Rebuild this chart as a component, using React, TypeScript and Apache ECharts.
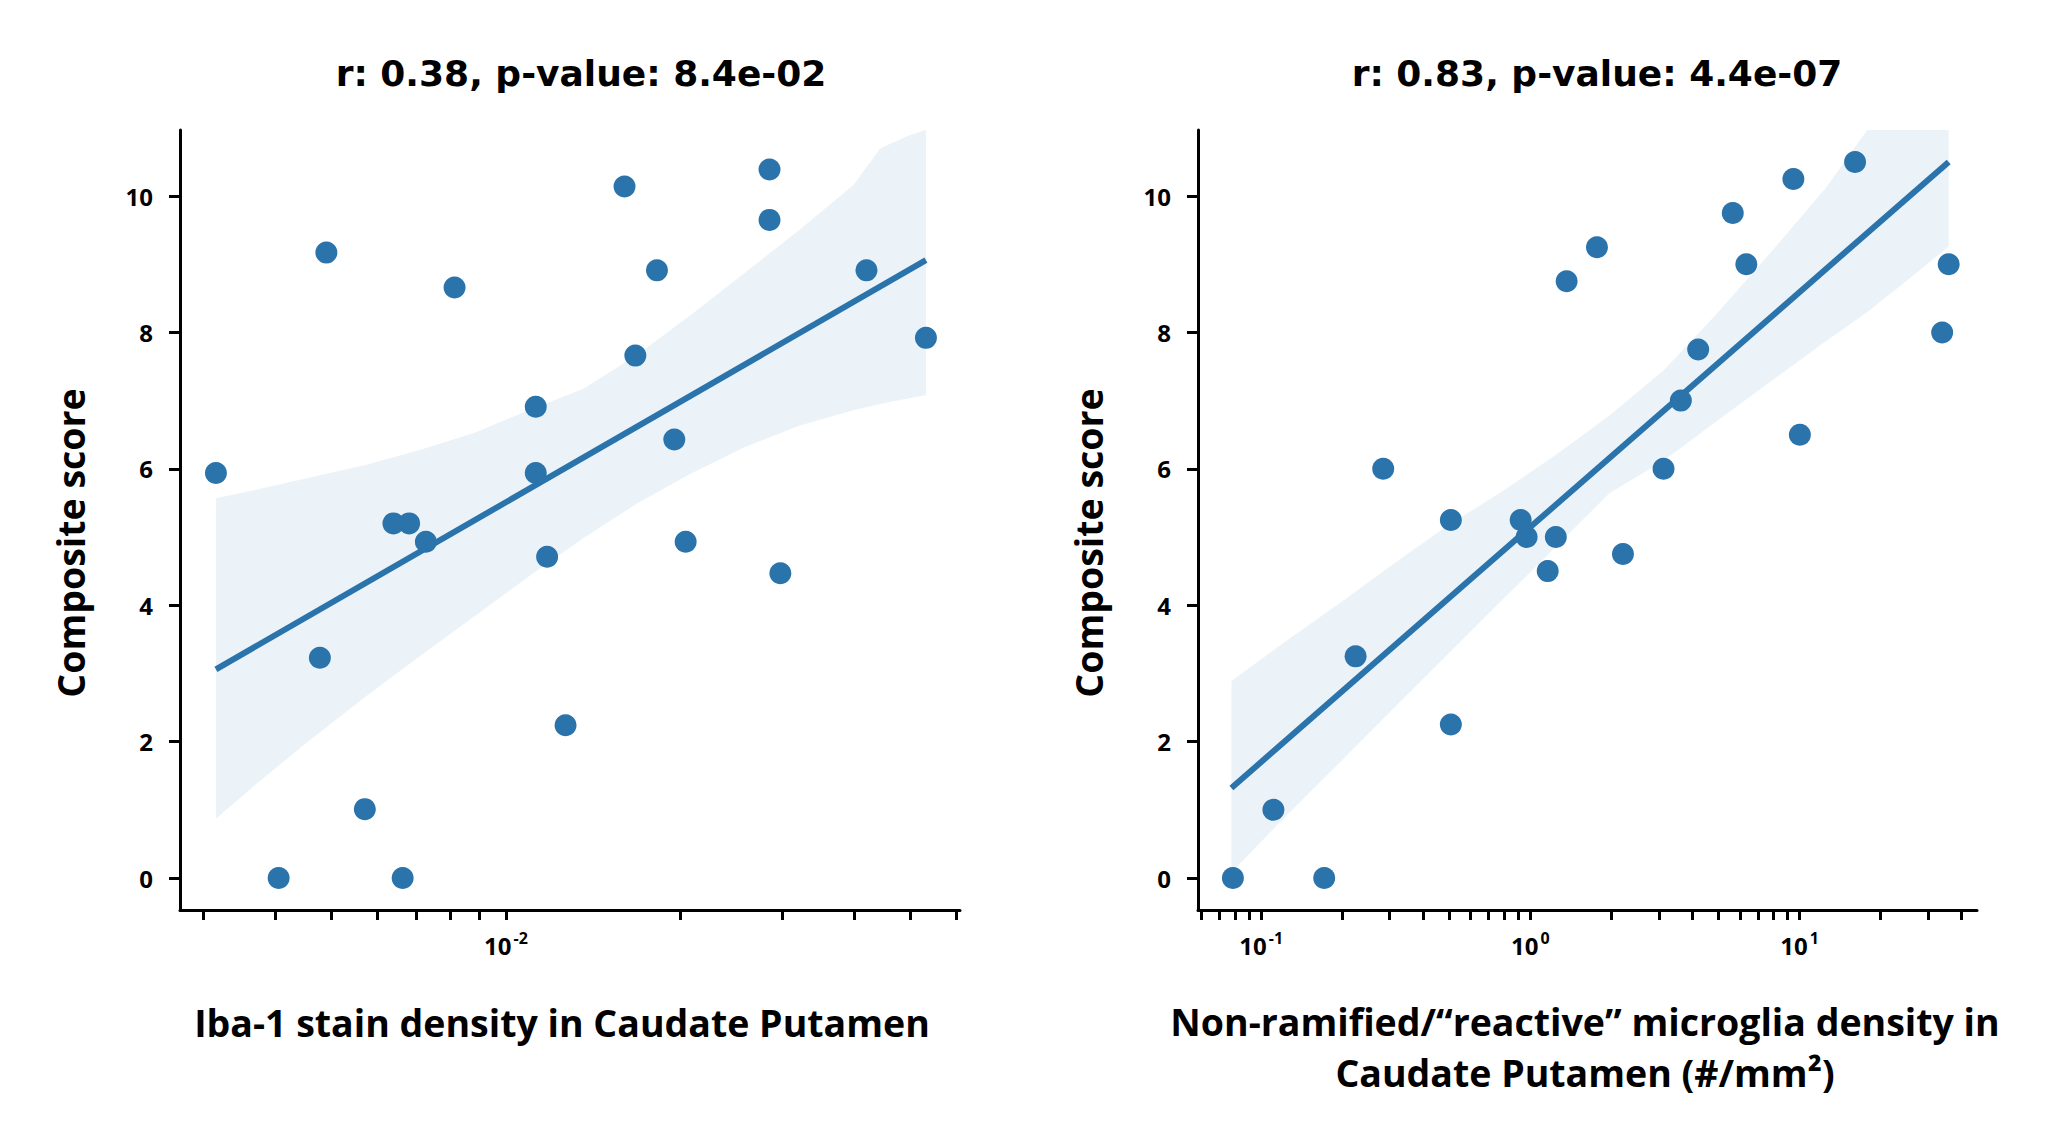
import React, { useEffect, useRef } from "react";
import * as echarts from "echarts";

// ---------- data ----------
const yValuesLeft = [5.94, 0, 9.17, 3.23, 1.01, 5.2, 5.2, 0, 4.93, 8.66, 6.91, 5.94, 4.71, 2.24, 10.14, 7.66, 8.91, 6.43, 4.93, 10.39, 9.65, 4.47, 8.91, 7.92];
const iba1Density = [
  0.003155, 0.004049, 0.004895, 0.00477, 0.005704, 0.006391, 0.006803, 0.00663, 0.007271, 0.00815,
  0.011256, 0.011256, 0.011776, 0.012672, 0.016022, 0.016726, 0.018228, 0.019528, 0.020431, 0.028519,
  0.028519, 0.029774, 0.041937, 0.053123,
];
const reactiveDensity = [
  0.0785, 0.111, 0.1714, 0.2242, 0.2839, 0.5064, 0.5064, 0.92, 0.9681, 1.1595,
  1.2429, 1.3633, 1.767, 2.2068, 3.1225, 3.6215, 4.2003, 5.6458, 6.3394, 9.4818,
  10.023, 16.07, 33.85, 35.79,
];
const yValuesRight = [0, 1, 0, 3.25, 6, 5.25, 2.25, 5.25, 5, 4.5, 5, 8.75, 9.25, 4.75, 6, 7, 7.75, 9.75, 9, 10.25, 6.5, 10.5, 8, 9];

// regression lines (end points)
const leftFitX = [0.003155, 0.053123];
const leftFitY = [3.06, 9.06];
const rightFitX = [0.0775, 35.79];
const rightFitY = [1.32, 10.5];

// confidence bands
const leftBandX = [0.003155, 0.003731, 0.004628, 0.005741, 0.007117, 0.008826, 0.010946, 0.013576, 0.016834, 0.020873, 0.025883, 0.0321, 0.03981, 0.044337, 0.049375, 0.053123];
const leftBandLow = [0.87, 1.4, 2.05, 2.67, 3.26, 3.84, 4.42, 4.98, 5.49, 5.93, 6.32, 6.63, 6.86, 6.95, 7.03, 7.08];
const leftBandHigh = [5.57, 5.7, 5.88, 6.06, 6.28, 6.53, 6.86, 7.17, 7.67, 8.26, 8.88, 9.5, 10.16, 10.7, 10.88, 10.97];

const rightBandX = [0.0775, 0.1223, 0.1943, 0.3087, 0.4902, 0.779, 1.2374, 1.9656, 3.1225, 4.9608, 7.88, 12.517, 17.71, 25.06, 35.79];
const rightBandLow = [0.08, 0.89, 1.68, 2.48, 3.27, 4.06, 4.85, 5.64, 6.12, 6.71, 7.29, 7.87, 8.29, 8.76, 9.26];
const rightBandHigh = [2.89, 3.46, 4.02, 4.6, 5.16, 5.66, 6.2, 6.78, 7.44, 8.29, 9.19, 10.12, 10.95, 11.6, 12.4];

// axes
const yTicks = [0, 2, 4, 6, 8, 10];
const leftXTicks = [0.003, 0.004, 0.005, 0.006, 0.007, 0.008, 0.009, 0.01, 0.02, 0.03, 0.04, 0.05, 0.06];
const leftXLabels = [0.01];
const rightXTicks = [0.06, 0.07, 0.08, 0.09, 0.1, 0.2, 0.3, 0.4, 0.5, 0.6, 0.7, 0.8, 0.9, 1, 2, 3, 4, 5, 6, 7, 8, 9, 10, 20, 30, 40];
const rightXLabels = [0.1, 1, 10];

const titles = ["r: 0.38, p-value: 8.4e-02", "r: 0.83, p-value: 4.4e-07"];
const xNames = [
  "Iba-1 stain density in Caudate Putamen",
  "Non-ramified/\u201creactive\u201d microglia density in\nCaudate Putamen (#/mm\u00b2)",
];
const yName = "Composite score";

// ---------- styles ----------
const BLUE = "#2a73ab";
const BAND = "rgba(31,119,180,0.09)";
const LABEL_FONT = "'Open Sans', 'Noto Sans', sans-serif";
const TITLE_FONT = "'DejaVu Sans', sans-serif";

const pairs = (xs: number[], ys: number[]) => xs.map((x, i) => [x, ys[i]]);

function logLabel(v: number) {
  const e = Math.round(Math.log10(v));
  return `{b|10}{s|${e}}`;
}

const richLabel = {
  b: { fontSize: 24, fontWeight: "bold", fontFamily: LABEL_FONT, color: "#000", lineHeight: 30 },
  s: { fontSize: 16, fontWeight: "bold", fontFamily: LABEL_FONT, color: "#000", verticalAlign: "top", lineHeight: 16, padding: [0, 0, 0, 2] },
};

function xAxisFor(grid: number, min: number, max: number, ticks: number[], labels: number[]) {
  return {
    type: "log",
    logBase: 10,
    gridIndex: grid,
    min,
    max,
    axisLine: { show: true, onZero: false, lineStyle: { color: "#000", width: 3 } },
    axisTick: { show: true, customValues: ticks, length: 10, lineStyle: { color: "#000", width: 3 } },
    axisLabel: { customValues: labels, formatter: logLabel, rich: richLabel, margin: 20 },
    splitLine: { show: false },
    minorTick: { show: false },
  };
}

function yAxisFor(grid: number) {
  return {
    type: "value",
    gridIndex: grid,
    min: -0.469,
    max: 10.968,
    axisLine: { show: true, onZero: false, lineStyle: { color: "#000", width: 3 } },
    axisTick: { show: true, customValues: yTicks, length: 11, lineStyle: { color: "#000", width: 3 } },
    axisLabel: {
      customValues: yTicks,
      fontSize: 24,
      fontWeight: "bold",
      fontFamily: LABEL_FONT,
      color: "#000",
      margin: 27,
    },
    splitLine: { show: false },
  };
}

function seriesFor(
  idx: number,
  xs: number[],
  ys: number[],
  fitX: number[],
  fitY: number[],
  bandX: number[],
  low: number[],
  high: number[]
) {
  return [
    {
      type: "custom",
      xAxisIndex: idx,
      yAxisIndex: idx,
      clip: true,
      silent: true,
      data: [[bandX[0], low[0]]],
      renderItem: (_params: any, api: any) => {
        const up = bandX.map((x, i) => api.coord([x, high[i]]));
        const lo = bandX.map((x, i) => api.coord([x, low[i]])).reverse();
        return {
          type: "polygon",
          shape: { points: up.concat(lo) },
          style: { fill: BAND, stroke: "none" },
        };
      },
      z: 1,
    },
    {
      type: "scatter",
      xAxisIndex: idx,
      yAxisIndex: idx,
      data: pairs(xs, ys),
      symbol: "circle",
      symbolSize: 22,
      itemStyle: { color: BLUE, opacity: 1 },
      z: 2,
    },
    {
      type: "line",
      xAxisIndex: idx,
      yAxisIndex: idx,
      data: pairs(fitX, fitY),
      showSymbol: false,
      lineStyle: { color: BLUE, width: 6 },
      z: 3,
    },
  ];
}

export default function App() {
  const ref = useRef<HTMLDivElement>(null);

  useEffect(() => {
    if (!ref.current) return;
    const chart = echarts.init(ref.current, undefined, { renderer: "svg" });
    const titleStyle = { fontSize: 36, fontWeight: "bold", fontFamily: TITLE_FONT, fill: "#000", align: "center", verticalAlign: "middle" };
    const nameStyle = { fontSize: 37.5, fontWeight: "bold", fontFamily: LABEL_FONT, fill: "#000", align: "center", verticalAlign: "middle" };
    const option = {
      animation: false,
      backgroundColor: "#ffffff",
      grid: [
        { left: 180, top: 130, width: 780, height: 780 },
        { left: 1198, top: 130, width: 779, height: 780 },
      ],
      xAxis: [
        xAxisFor(0, 0.002735, 0.06083, leftXTicks, leftXLabels),
        xAxisFor(1, 0.05824, 45.6, rightXTicks, rightXLabels),
      ],
      yAxis: [yAxisFor(0), yAxisFor(1)],
      series: [
        ...seriesFor(0, iba1Density, yValuesLeft, leftFitX, leftFitY, leftBandX, leftBandLow, leftBandHigh),
        ...seriesFor(1, reactiveDensity, yValuesRight, rightFitX, rightFitY, rightBandX, rightBandLow, rightBandHigh),
      ],
      graphic: [
        { type: "text", x: 581, y: 73, style: { ...titleStyle, text: titles[0] } },
        { type: "text", x: 1597, y: 73, style: { ...titleStyle, text: titles[1] } },
        { type: "text", x: 70, y: 543, rotation: Math.PI / 2, style: { ...nameStyle, text: yName } },
        { type: "text", x: 1088, y: 543, rotation: Math.PI / 2, style: { ...nameStyle, text: yName } },
        { type: "text", x: 562, y: 1022, style: { ...nameStyle, text: xNames[0] } },
        { type: "text", x: 1585, y: 1047, style: { ...nameStyle, text: xNames[1], lineHeight: 51 } },
      ],
    };
    chart.setOption(option as any);
    return () => chart.dispose();
  }, []);

  return <div ref={ref} style={{ position: "fixed", left: 0, top: 0, width: 2048, height: 1131, background: "#fff" }} />;
}
